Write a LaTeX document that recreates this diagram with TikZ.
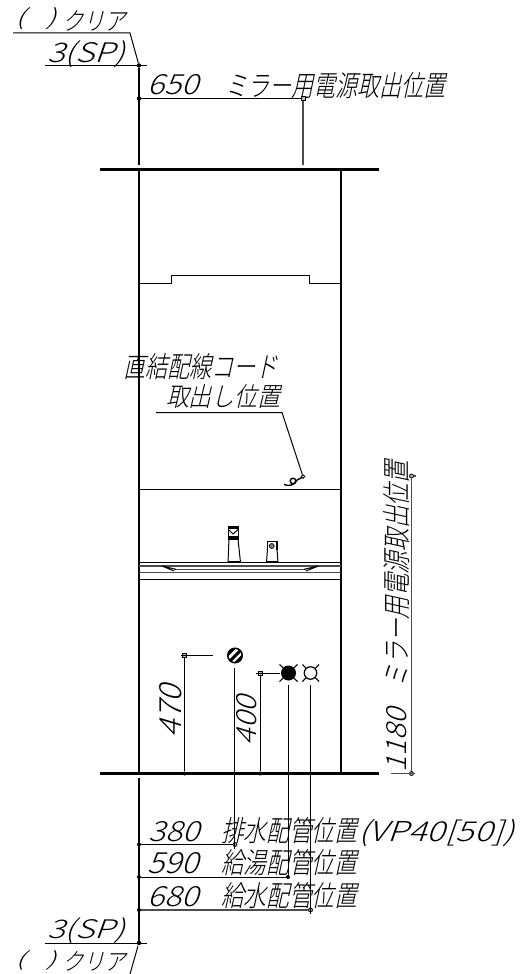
\documentclass[tikz,border=0pt]{standalone}
\usepackage{fontspec}
\newfontfamily\cad[FakeSlant=0.28]{Noto Sans CJK JP Light}
\newcommand{\cadtxt}[3]{\resizebox{#1pt}{#2pt}{\cad #3}}
\tikzset{
  thick line/.style={line width=2.2pt,black},
  wall/.style={line width=2pt,black},
  thin line/.style={line width=1pt,black},
  grey line/.style={line width=1.1pt,black!70},
  lbl/.style={anchor=south west,inner sep=0pt,outer sep=0pt,black},
  rlbl/.style={anchor=south west,inner sep=0pt,outer sep=0pt,black,rotate=90},
  dot/.style={circle,fill=black,inner sep=0pt,minimum size=4.5pt},
  smallbox/.style={rectangle,draw=black,line width=0.7pt,fill=black!25,inner sep=0pt,minimum size=4pt},
  ring/.style={circle,draw=black,line width=0.8pt,fill=black!30,inner sep=0pt,minimum size=4pt}
}
\begin{document}
\begin{tikzpicture}[x=1pt,y=-1pt]
\useasboundingbox (0,0) rectangle (522,974);
% reference marks
\node[dot] (topref) at (139,65.5) {};
\node[dot] (botref) at (139,943) {};
\node[dot] (d650) at (139,98.5) {};
\node[smallbox] (m650) at (303,98.5) {};
\coordinate (lt1) at (13,33);
\coordinate (lt2) at (130,33);
\draw[thin line] (lt1) -- (lt2) -- (topref);
\draw[thin line] (45,65.5) -- (147,65.5);
\draw[thick line] (topref) -- (139,165);
\draw[thin line] (d650) -- (m650);
\draw[grey line] (m650) -- (303,165);
% top / floor
\draw[wall,line width=2.6pt] (100,169.5) -- (379,169.5);
\draw[wall,line width=2.6pt] (100,773.5) -- (379,773.5);
\draw[wall] (138.5,170) -- (138.5,773);
\draw[wall] (341,170) -- (341,773);
% cabinet top
\draw[thin line] (139,283) -- (171,283) -- (171,275.5) -- (309.5,275.5) -- (309.5,283) -- (341,283);
\draw[thin line] (139,489.5) -- (341,489.5);
% cord leader
\coordinate (cl1) at (156,412.5);
\coordinate (cl2) at (282,412.5);
\node[circle,draw=black,line width=1pt,inner sep=0pt,minimum size=3.5pt] (cord) at (303,476.5) {};
\draw[thin line] (cl1) -- (cl2) -- (cord);
\draw[line width=1.4pt] (302,477.5) -- (297,480) .. controls (295,485.5) and (288,486.5) .. (284,484.5);
\draw[line width=1.4pt] (293,481) circle (2.8);
% basin
\draw[thin line] (139,562.5) -- (341,562.5);
\draw[grey line] (139,566) -- (341,566);
\draw[grey line] (139,572.7) -- (341,572.7);
\draw[thin line] (139,579.5) -- (341,579.5);
\draw[grey line] (174,569.3) -- (306,569.3);
\draw[line width=1pt] (162,566) -- (174,571) (162,566) -- (176,569.3);
\draw[line width=1pt] (318.5,566) -- (306,571) (318.5,566) -- (304,569.3);
% faucets
\draw[thin line] (229,539) -- (228,562.5) (238,539) -- (240.5,562.5);
\draw[line width=1pt,fill=white] (228,526) rectangle (238.5,539);
\fill (228,535.5) rectangle (238.5,539.5);
\fill (228,526) rectangle (238.5,529);
\draw[line width=1pt] (228,529) -- (233,534) -- (238.5,529);
\draw[thin line] (267.5,549) -- (266.5,562.5) (277,549) -- (278,562.5);
\draw[line width=1.2pt,fill=white] (267.5,550) -- (267.5,541.5) -- (277,541.5) -- (277,550);
\draw[line width=0.7pt,fill=black!50] (271.8,546) circle (2.5);
\fill (266.5,560.5) rectangle (278,562.5);
\fill (228,560.5) rectangle (240.5,562.5);
% drain
\node[circle,draw=black,line width=1.5pt,fill=white,inner sep=0pt,minimum size=14.5pt] (drain) at (235,655.5) {};
\begin{scope}
\clip (235,655.5) circle (7.2);
\draw[line width=3pt] (229,662) -- (241,650);
\draw[line width=3.4pt] (224,658) -- (236,646);
\draw[line width=3.4pt] (234,665) -- (246,653);
\end{scope}
% hot, cold
\node[circle,fill=black,inner sep=0pt,minimum size=15pt] (hot) at (288.5,673) {};
\draw[line width=1.1pt] (279.5,664.5) -- (297.5,681.5) (297.5,664.5) -- (279.5,681.5);
\draw[line width=1.1pt] (302.5,664.5) -- (319,681.5) (319,664.5) -- (302.5,681.5);
\node[circle,draw=black,line width=1.2pt,fill=white,inner sep=0pt,minimum size=12.5pt] (cold) at (310.5,673) {};
% height dims
\node[smallbox] (m470) at (184.5,655.5) {};
\node[dot,minimum size=4pt] (f470) at (184.5,773.5) {};
\node[smallbox] (m400) at (260,673) {};
\node[dot,minimum size=4pt] (f400) at (260,773.5) {};
\draw[thin line] (181,655.5) -- (213,655.5);
\draw[thin line] (m470) -- (f470);
\draw[thin line] (256,673) -- (280,673);
\draw[thin line] (m400) -- (f400);
% plan dims, bottom
\node[ring] (m380) at (235,844.5) {};
\node[dot,minimum size=4pt] (m590) at (288,877) {};
\node[ring] (m680) at (310.5,910) {};
\draw[thin line] (234.5,668) -- (234.5,849);
\draw[thin line] (288,685) -- (288,878);
\draw[thin line] (310.5,685) -- (310.5,914);
\node[dot,minimum size=4pt] (d380) at (139,844.5) {};
\node[dot,minimum size=4pt] (d590) at (139,877) {};
\node[dot,minimum size=4pt] (d680) at (139,910) {};
\draw[thin line] (d380) -- (m380);
\draw[thin line] (d590) -- (m590);
\draw[grey line] (d680) -- (m680);
\draw[thick line] (139,778) -- (botref);
\draw[thin line] (45,943) -- (147,943);
\coordinate (lb) at (130,974);
\draw[thin line] (138,946) -- (lb);
% right dim
\node[ring] (r1) at (411.5,476) {};
\node[ring] (r2) at (411.5,773.5) {};
\draw[grey line] (r1) -- (r2);
\draw[grey line] (391,773.5) -- (415,773.5);
\draw[grey line] (r1) -- (416,476);
% text
\node[lbl] (t1a) at (16,30) {\cadtxt{40}{18}{(\ \ \ )}};
\node[lbl] (t1b) at (62,31) {\cadtxt{64}{20}{クリア}};
\node[lbl] (t2) at (47,63) {\cadtxt{78}{20}{3\smash{(}SP\smash{)}}};
\node[lbl] (t3n) at (147,95) {\cadtxt{51}{20}{650}};
\node[lbl] (t3l) at (225,98.5) {\cadtxt{220}{24}{ミラー用電源取出位置}};
\node[lbl] (t4) at (123,379.5) {\cadtxt{155}{24}{直結配線コード}};
\node[lbl] (t5) at (166,408.5) {\cadtxt{114}{22}{取出し位置}};
\node[rlbl] (t6n) at (407,772) {\cadtxt{64}{20}{1180}};
\node[rlbl] (t6l) at (409.5,687) {\cadtxt{226}{24}{ミラー用電源取出位置}};
\node[rlbl] (t7) at (182,737) {\cadtxt{52}{22}{470}};
\node[rlbl] (t8) at (257,745) {\cadtxt{49}{20}{400}};
\node[lbl] (t9n) at (148,842) {\cadtxt{51}{20}{380}};
\node[lbl] (t9l) at (221,843.5) {\cadtxt{136}{24}{排水配管位置}};
\node[lbl] (t9x) at (358,842) {\cadtxt{156}{20}{\smash{(}VP40\smash{[}50\smash{])}}};
\node[lbl] (t10n) at (147,874) {\cadtxt{51}{21}{590}};
\node[lbl] (t10l) at (221,875.5) {\cadtxt{136}{24}{給湯配管位置}};
\node[lbl] (t11n) at (147,907) {\cadtxt{51}{20}{680}};
\node[lbl] (t11l) at (221,908.5) {\cadtxt{136}{24}{給水配管位置}};
\node[lbl] (t12) at (47,938.5) {\cadtxt{78}{19}{3\smash{(}SP\smash{)}}};
\node[lbl] (t13a) at (16,970) {\cadtxt{40}{16}{(\ \ \ )}};
\node[lbl] (t13b) at (62,971.5) {\cadtxt{64}{19}{クリア}};
\end{tikzpicture}
\end{document}
